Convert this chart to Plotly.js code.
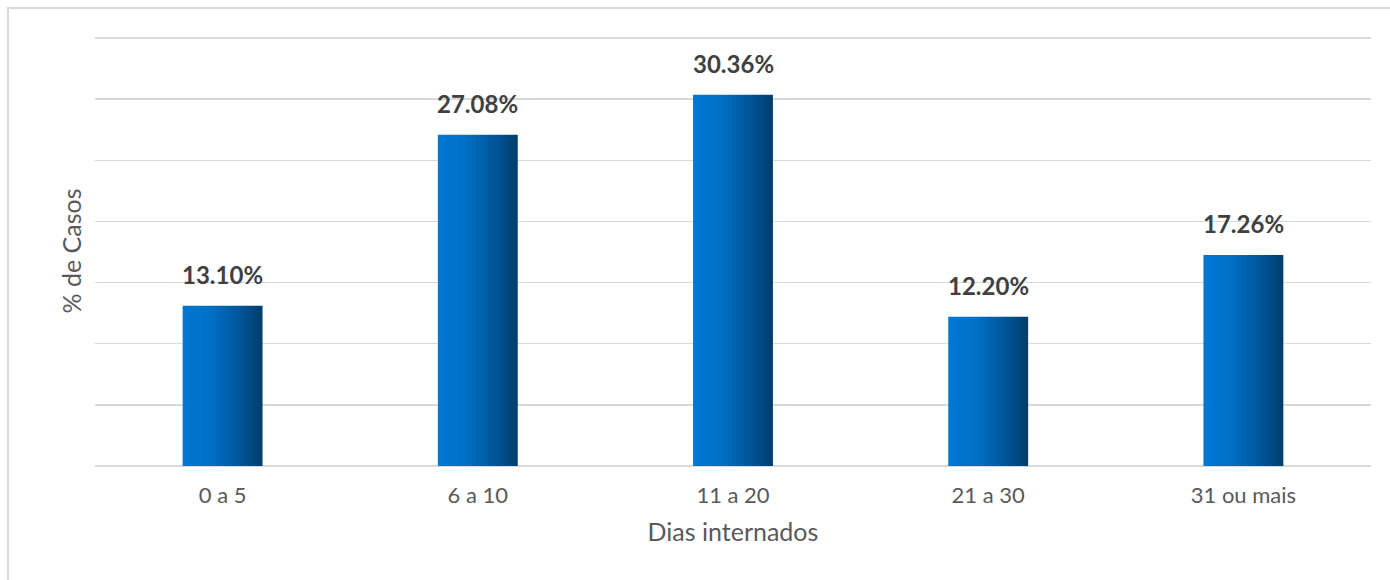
<!DOCTYPE html>
<html>
<head>
<meta charset="utf-8">
<script src="https://cdn.plot.ly/plotly-3.0.1.min.js"></script>
<style>
html,body{margin:0;padding:0;background:#fff;}
#frame{position:absolute;left:7px;top:7px;width:1400px;height:600px;border:2px solid #d9d9d9;box-sizing:border-box;}
#chart{position:absolute;left:0;top:0;width:1390px;height:580px;}
</style>
</head>
<body>
<div id="frame"></div>
<div id="chart"></div>
<script>
var categories = ["0 a 5", "6 a 10", "11 a 20", "21 a 30", "31 ou mais"];
var values = [13.10, 27.08, 30.36, 12.20, 17.26];
var labels = ["13.10%", "27.08%", "30.36%", "12.20%", "17.26%"];
var yTicks = [0, 5, 10, 15, 20, 25, 30, 35];

var trace = {
  type: "bar",
  x: categories,
  y: values,
  marker: {color: "#0070c8", line: {width: 0}},
  hoverinfo: "none"
};

var annotations = categories.map(function (c, i) {
  return {
    x: c, y: values[i], xref: "x", yref: "y",
    text: labels[i], showarrow: false,
    yanchor: "bottom", yshift: 15,
    font: {family: "Lato, 'Open Sans', sans-serif", size: 24, color: "#404040", weight: "bold"}
  };
});

var layout = {
  width: 1390, height: 580,
  margin: {l: 95, r: 19, t: 36, b: 114},
  paper_bgcolor: "rgba(0,0,0,0)",
  plot_bgcolor: "rgba(0,0,0,0)",
  bargap: 0.687,
  showlegend: false,
  font: {family: "Lato, 'Open Sans', sans-serif", color: "#595959"},
  xaxis: {
    type: "category",
    showgrid: false, showline: false, zeroline: false,
    ticks: "", ticklabelstandoff: 14, tickfont: {size: 22, color: "#595959"},
    title: {text: "Dias internados", font: {size: 25, color: "#595959"}, standoff: 16}
  },
  yaxis: {
    range: [0, 35.16],
    tickvals: yTicks,
    showticklabels: false,
    showgrid: true, gridcolor: "#d9d9d9", gridwidth: 1.5,
    zeroline: true, zerolinecolor: "#d9d9d9", zerolinewidth: 1.5,
    showline: false, ticks: "",
    title: {text: "% de Casos", font: {size: 25, color: "#595959"}, standoff: 5}
  },
  annotations: annotations
};

Plotly.newPlot("chart", [trace], layout, {staticPlot: true, displayModeBar: false}).then(function (gd) {
  var svg = gd.querySelector("svg.main-svg");
  var defs = svg.querySelector("defs");
  var ns = "http://www.w3.org/2000/svg";
  var grad = document.createElementNS(ns, "linearGradient");
  grad.setAttribute("id", "barGrad");
  grad.setAttribute("x1", "0"); grad.setAttribute("y1", "0");
  grad.setAttribute("x2", "1"); grad.setAttribute("y2", "0");
  [["0", "#0078d4"], ["0.35", "#0070c6"], ["0.7", "#00569a"], ["1", "#003d6b"]].forEach(function (s) {
    var st = document.createElementNS(ns, "stop");
    st.setAttribute("offset", s[0]);
    st.setAttribute("stop-color", s[1]);
    grad.appendChild(st);
  });
  defs.appendChild(grad);
  gd.querySelectorAll(".trace.bars .point path").forEach(function (p) {
    p.style.fill = "url(#barGrad)";
  });
});
</script>
</body>
</html>
